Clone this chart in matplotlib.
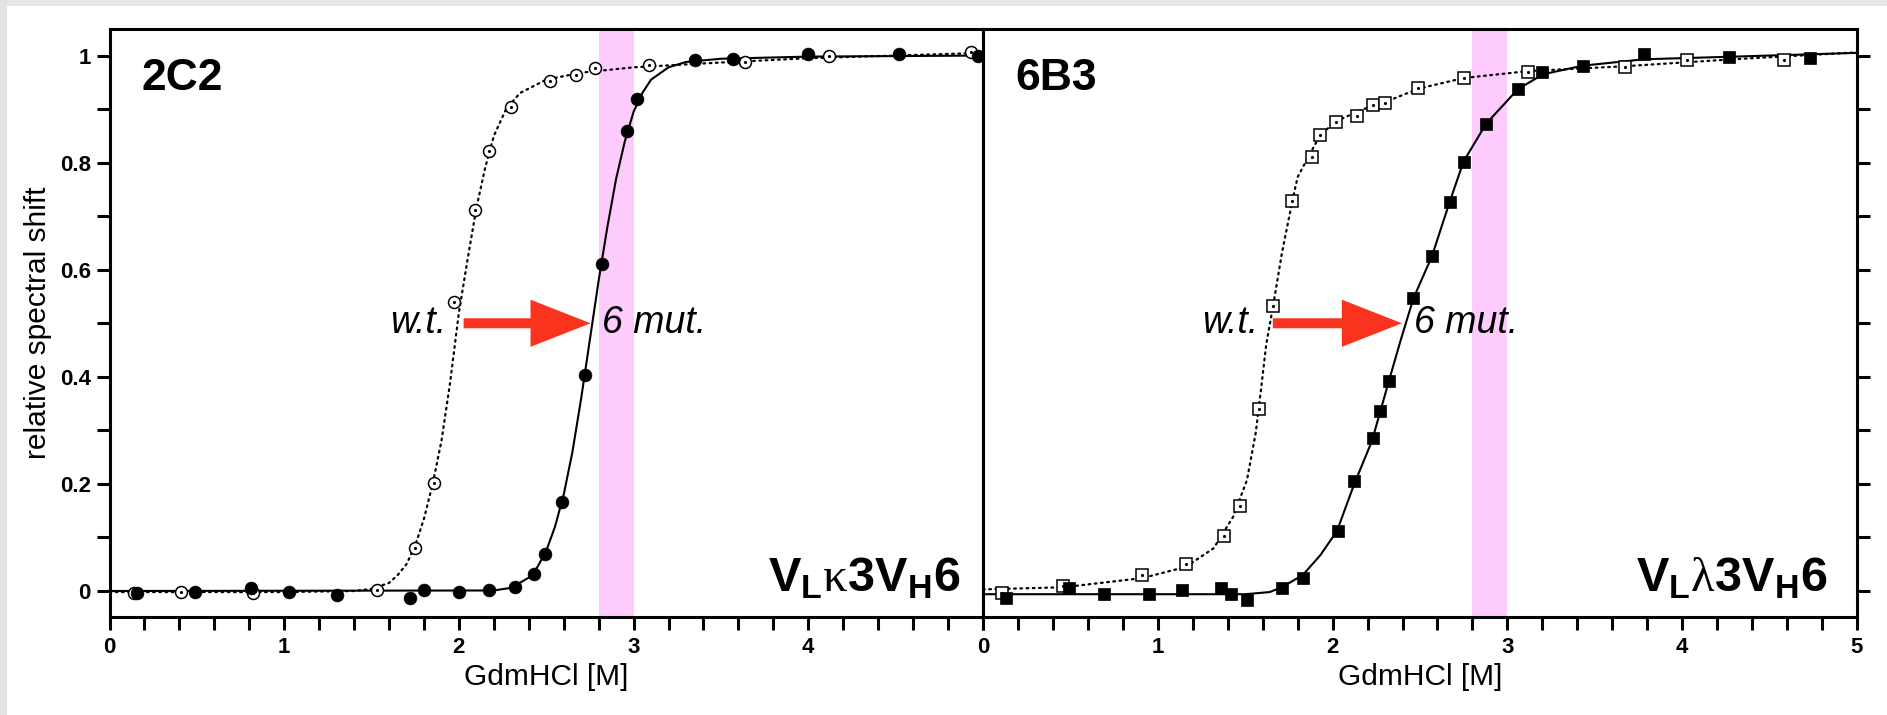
import matplotlib
matplotlib.use("Agg")
import matplotlib.pyplot as plt
from matplotlib.patches import Rectangle
from matplotlib.ticker import MultipleLocator

plt.rcParams['font.family'] = ['Liberation Sans', 'DejaVu Sans']
plt.rcParams['mathtext.fontset'] = 'custom'
plt.rcParams['mathtext.rm'] = 'Liberation Serif'
plt.rcParams['mathtext.bf'] = 'Liberation Sans:bold'
plt.rcParams['mathtext.it'] = 'Liberation Sans:italic'

# ---------------- data: 2C2 (V_L kappa 3 V_H 6) ----------------
L_wt_x = [0.14, 0.41, 0.82, 1.53, 1.75, 1.86, 1.97, 2.09, 2.17, 2.30, 2.52, 2.67, 2.78, 3.09, 3.64, 4.12, 4.93]
L_wt_y = [-0.003, -0.002, -0.003, 0.002, 0.081, 0.201, 0.540, 0.712, 0.821, 0.904, 0.953, 0.964, 0.976, 0.983, 0.988, 1.000, 1.007]
L_mut_x = [0.16, 0.49, 0.81, 1.03, 1.30, 1.72, 1.80, 2.00, 2.17, 2.32, 2.43, 2.49, 2.59, 2.72, 2.82, 2.96, 3.02, 3.35, 3.57, 4.00, 4.52, 4.97]
L_mut_y = [-0.004, -0.002, 0.005, -0.001, -0.007, -0.014, 0.002, -0.001, 0.002, 0.008, 0.032, 0.070, 0.166, 0.403, 0.610, 0.859, 0.918, 0.991, 0.993, 1.003, 1.003, 0.999]
# fitted curves
L_wt_fit_x = [0, 1.0, 1.4, 1.5, 1.6, 1.65, 1.7, 1.75, 1.8, 1.85, 1.9, 1.95, 2.0, 2.05, 2.1, 2.15, 2.2, 2.27, 2.35, 2.5, 2.7, 3.0, 3.5, 4.0, 4.5, 5.0]
L_wt_fit_y = [-0.002, -0.002, 0.0, 0.004, 0.015, 0.03, 0.05, 0.085, 0.135, 0.2, 0.28, 0.39, 0.52, 0.62, 0.715, 0.79, 0.85, 0.90, 0.93, 0.955, 0.968, 0.978, 0.987, 0.995, 1.0, 1.005]
L_mut_fit_x = [0, 2.2, 2.3, 2.4, 2.45, 2.5, 2.55, 2.6, 2.65, 2.7, 2.75, 2.8, 2.85, 2.9, 2.95, 3.0, 3.05, 3.1, 3.2, 3.3, 3.5, 4.0, 5.0]
L_mut_fit_y = [0, 0.001, 0.006, 0.025, 0.045, 0.075, 0.12, 0.18, 0.26, 0.36, 0.47, 0.58, 0.68, 0.77, 0.84, 0.895, 0.93, 0.955, 0.978, 0.988, 0.994, 0.998, 1.0]

# ---------------- data: 6B3 (V_L lambda 3 V_H 6) ----------------
R_wt_x = [0.11, 0.46, 0.91, 1.16, 1.38, 1.47, 1.58, 1.66, 1.77, 1.88, 1.93, 2.02, 2.14, 2.23, 2.30, 2.49, 2.75, 3.12, 3.67, 4.03, 4.58]
R_wt_y = [-0.003, 0.009, 0.030, 0.050, 0.102, 0.158, 0.339, 0.533, 0.729, 0.810, 0.852, 0.875, 0.888, 0.908, 0.911, 0.940, 0.958, 0.970, 0.978, 0.992, 0.992]
R_mut_x = [0.13, 0.49, 0.69, 0.95, 1.14, 1.36, 1.42, 1.51, 1.71, 1.83, 2.03, 2.12, 2.23, 2.27, 2.32, 2.46, 2.57, 2.67, 2.75, 2.88, 3.06, 3.20, 3.43, 3.78, 4.27, 4.73]
R_mut_y = [-0.014, 0.006, -0.006, -0.005, 0.001, 0.005, -0.006, -0.016, 0.005, 0.025, 0.112, 0.206, 0.285, 0.336, 0.393, 0.547, 0.625, 0.726, 0.802, 0.873, 0.937, 0.970, 0.981, 1.003, 0.997, 0.995]
R_wt_fit_x = [0, 0.46, 0.91, 1.16, 1.32, 1.43, 1.51, 1.56, 1.59, 1.62, 1.66, 1.71, 1.77, 1.80, 1.86, 1.93, 2.02, 2.16, 2.30, 2.49, 2.75, 3.12, 3.67, 4.29, 5.0]
R_wt_fit_y = [0.003, 0.007, 0.024, 0.045, 0.08, 0.138, 0.207, 0.295, 0.375, 0.46, 0.533, 0.631, 0.729, 0.773, 0.81, 0.852, 0.877, 0.898, 0.913, 0.938, 0.958, 0.971, 0.98, 0.993, 1.006]
R_mut_fit_x = [0, 1.5, 1.64, 1.71, 1.83, 1.93, 2.025, 2.124, 2.225, 2.32, 2.39, 2.463, 2.568, 2.669, 2.749, 2.879, 2.978, 3.059, 3.204, 3.43, 3.78, 4.3, 5.0]
R_mut_fit_y = [-0.006, -0.006, -0.002, 0.007, 0.03, 0.067, 0.112, 0.2, 0.28, 0.39, 0.469, 0.547, 0.625, 0.726, 0.802, 0.873, 0.908, 0.937, 0.965, 0.981, 0.993, 0.998, 1.005]

panel_names = ["2C2", "6B3"]
construct_labels = [r"$\mathbf{V}_{\mathbf{L}}\mathrm{\kappa}\mathbf{3V}_{\mathbf{H}}\mathbf{6}$",
                    r"$\mathbf{V}_{\mathbf{L}}\mathrm{\lambda}\mathbf{3V}_{\mathbf{H}}\mathbf{6}$"]
band_range = [2.8, 3.0]
# arrow annotation (start x, tip x), label anchors
arrow_x = [[2.027, 2.754], [1.658, 2.397]]
wt_label_x = [1.93, 1.574]
mut_label_x = [2.82, 2.463]
construct_label_x = [4.87, 4.83]
x_ticks = [0, 1, 2, 3, 4, 5]
x_ticklabels = [['0', '1', '2', '3', '4', ''], ['0', '1', '2', '3', '4', '5']]
y_ticks = [0, 0.2, 0.4, 0.6, 0.8, 1.0]
y_ticklabels = ['0', '0.2', '0.4', '0.6', '0.8', '1']

W, H = 1887, 715
fig = plt.figure(figsize=(W / 100, H / 100), dpi=100)
fig.patch.set_facecolor('white')
# screenshot frame strips
fig.patches.append(Rectangle((0, 1 - 6 / H), 1, 6 / H, transform=fig.transFigure,
                             facecolor='#e6e6e6', edgecolor='none', zorder=0))
fig.patches.append(Rectangle((0, 0), 7 / W, 1, transform=fig.transFigure,
                             facecolor='#e3e3e3', edgecolor='none', zorder=0))

left0, mid, right1 = 109.5 / W, 983 / W, 1857 / W
bot, top = 1 - 616.7 / H, 1 - 29.3 / H
ax1 = fig.add_axes([left0, bot, mid - left0, top - bot])
ax2 = fig.add_axes([mid, bot, right1 - mid, top - bot])

LW = 2.2
series = [
    (ax1, L_wt_x, L_wt_y, L_mut_x, L_mut_y, L_wt_fit_x, L_wt_fit_y, L_mut_fit_x, L_mut_fit_y, 'o'),
    (ax2, R_wt_x, R_wt_y, R_mut_x, R_mut_y, R_wt_fit_x, R_wt_fit_y, R_mut_fit_x, R_mut_fit_y, 's'),
]

for i, (ax, wx, wy, mx, my, wfx, wfy, mfx, mfy, mk) in enumerate(series):
    ax.set_xlim(0, 5)
    ax.set_ylim(-0.048, 1.049)
    ax.axvspan(band_range[0], band_range[1], color='#fdccfd', lw=0, zorder=0)
    ax.plot(wfx, wfy, color='black', lw=1.6, ls=(0, (0.8, 2.0)), dash_capstyle='round', zorder=2)
    ax.plot(mfx, mfy, color='black', lw=1.5, ls='-', zorder=2)
    ms_open = 8.6 if mk == 'o' else 8.4
    ax.plot(wx, wy, ls='none', marker=mk, ms=ms_open, mfc='white', mec='black', mew=1.1, zorder=3)
    ax.plot(wx, wy, ls='none', marker='.', ms=2.5, color='black', zorder=3.1)
    ax.plot(mx, my, ls='none', marker=mk, ms=9.2, mfc='black', mec='black', mew=0.5, zorder=4)

    # arrow
    ax.arrow(arrow_x[i][0], 0.5, arrow_x[i][1] - arrow_x[i][0], 0,
             width=0.0187, head_width=0.088, head_length=0.344,
             length_includes_head=True, color='#f8341e', lw=0, zorder=5)
    ax.text(wt_label_x[i], 0.482, 'w.t.', fontsize=27, style='italic', ha='right', va='baseline', zorder=6)
    ax.text(mut_label_x[i], 0.482, '6 mut.', fontsize=27, style='italic', ha='left', va='baseline', zorder=6)
    ax.text(0.185, 0.936, panel_names[i], fontsize=32, fontweight='bold', ha='left', va='baseline', zorder=6)
    ax.text(construct_label_x[i], -0.001, construct_labels[i], fontsize=35, ha='right', va='baseline', zorder=6)

    for sp in ax.spines.values():
        sp.set_linewidth(LW)
    ax.set_xticks(x_ticks)
    ax.set_xticklabels(x_ticklabels[i])
    ax.xaxis.set_minor_locator(MultipleLocator(0.2))
    ax.set_yticks(y_ticks)
    ax.yaxis.set_minor_locator(MultipleLocator(0.1))
    ax.tick_params(axis='both', which='both', direction='out', length=9.4, width=LW)
    ax.tick_params(axis='x', which='major', pad=5, labelsize=16)
    for lab in ax.get_xticklabels():
        lab.set_fontweight('bold')
    ax.set_xlabel('GdmHCl [M]', fontsize=21.5, labelpad=4)

ax1.set_yticklabels(y_ticklabels)
ax1.tick_params(axis='y', which='major', pad=4, labelsize=16)
for lab in ax1.get_yticklabels():
    lab.set_fontweight('bold')
ax1.set_ylabel('relative spectral shift', fontsize=21.5, labelpad=6)

ax2.yaxis.tick_right()
ax2.tick_params(axis='y', which='both', labelright=False, labelleft=False, left=False, right=True)

fig.savefig('out.png', dpi=100, facecolor=fig.get_facecolor())
